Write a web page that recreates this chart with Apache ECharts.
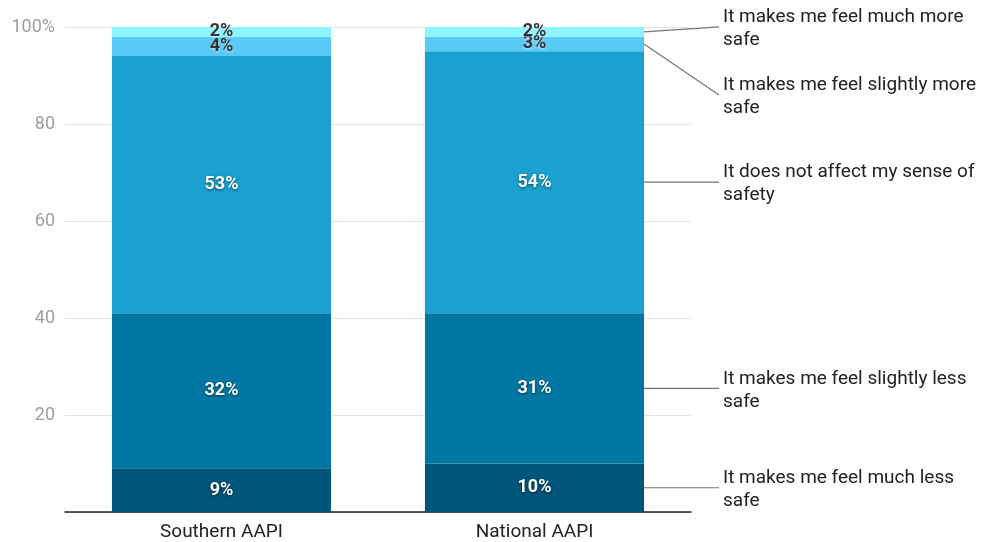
<!DOCTYPE html>
<html>
<head>
<meta charset="utf-8">
<script src="https://cdn.jsdelivr.net/npm/echarts@6/dist/echarts.min.js"></script>
<style>
  html, body { margin: 0; padding: 0; background: #fff; }
  #chart { width: 983px; height: 542px; }
</style>
</head>
<body>
<div id="chart"></div>
<script>
// Survey groups shown on the x axis
const categories = ['Southern AAPI', 'National AAPI'];

// Response options, stacked bottom to top
const responses = [
  'It makes me feel much less\nsafe',
  'It makes me feel slightly less\nsafe',
  'It does not affect my sense of\nsafety',
  'It makes me feel slightly more\nsafe',
  'It makes me feel much more\nsafe'
];

// Share of respondents (%) per response, in category order
const muchLess = [9, 10];
const slightlyLess = [32, 31];
const notAffect = [53, 54];
const slightlyMore = [4, 3];
const muchMore = [2, 2];

const yTicks = [0, 20, 40, 60, 80, 100];

const seriesValues = [muchLess, slightlyLess, notAffect, slightlyMore, muchMore];
const colors = ['#00557a', '#0077a3', '#1aa1cf', '#59c9f5', '#8cf4ff'];

const FONT = 'Roboto';

const chart = echarts.init(document.getElementById('chart'));

const series = seriesValues.map((vals, i) => {
  const dark = i >= 3;
  return {
    name: responses[i],
    type: 'bar',
    stack: 'total',
    barWidth: '70%',
    data: vals,
    itemStyle: { color: colors[i] },
    label: {
      show: true,
      position: 'inside',
      formatter: p => p.value + '%',
      fontFamily: FONT,
      fontSize: 18,
      fontWeight: 'bold',
      color: dark ? '#333' : '#fff',
      textShadowColor: dark ? 'rgba(255,255,255,0.6)' : 'rgba(0,0,0,0.55)',
      textShadowBlur: 3,
      textShadowOffsetY: 1
    },
    emphasis: { disabled: true }
  };
});

chart.setOption({
  animation: false,
  grid: { left: 65, right: 292, top: 27, bottom: 28, containLabel: false },
  xAxis: {
    type: 'category',
    data: categories,
    axisTick: { show: false },
    axisLine: { lineStyle: { color: '#222', width: 1.5 } },
    axisLabel: { color: '#222', fontFamily: FONT, fontSize: 19, margin: 11 }
  },
  yAxis: {
    type: 'value',
    min: yTicks[0],
    max: yTicks[yTicks.length - 1],
    interval: 20,
    axisLine: { show: false },
    axisTick: { show: false },
    splitLine: { lineStyle: { color: '#e3e3e3', width: 1 } },
    axisLabel: {
      color: '#9e9e9e',
      fontFamily: FONT,
      fontSize: 18,
      margin: 10,
      formatter: v => (v === 100 ? '100%' : v === 0 ? '' : String(v))
    }
  },
  series: series
});

// Leader lines and labels for each response, attached to the right-hand bar
const lastIdx = categories.length - 1;
const step = chart.convertToPixel({ seriesIndex: 0 }, [1, 0])[0] - chart.convertToPixel({ seriesIndex: 0 }, [0, 0])[0];
const barRight = chart.convertToPixel({ seriesIndex: 0 }, [lastIdx, 0])[0] + 0.35 * step;
const labelX = 723;
// label center offsets (in px) for the crowded top segments
const labelShift = [0, 0, 0, 51, -5];

const graphics = [];
let base = 0;
seriesValues.forEach((vals, i) => {
  const v = vals[lastIdx];
  const mid = base + v / 2;
  base += v;
  const y = chart.convertToPixel({ seriesIndex: i }, [lastIdx, mid])[1];
  const ly = y + labelShift[i];
  graphics.push({
    type: 'line',
    shape: { x1: barRight, y1: y, x2: labelX - 4, y2: ly },
    style: { stroke: '#757575', lineWidth: 1.2 },
    silent: true
  });
  graphics.push({
    type: 'text',
    x: labelX,
    y: ly + 2,
    style: {
      text: responses[i],
      fill: '#222',
      font: '19px ' + FONT,
      lineHeight: 23,
      textVerticalAlign: 'middle',
      textAlign: 'left'
    },
    silent: true
  });
});
chart.setOption({ graphic: graphics });
</script>
</body>
</html>
